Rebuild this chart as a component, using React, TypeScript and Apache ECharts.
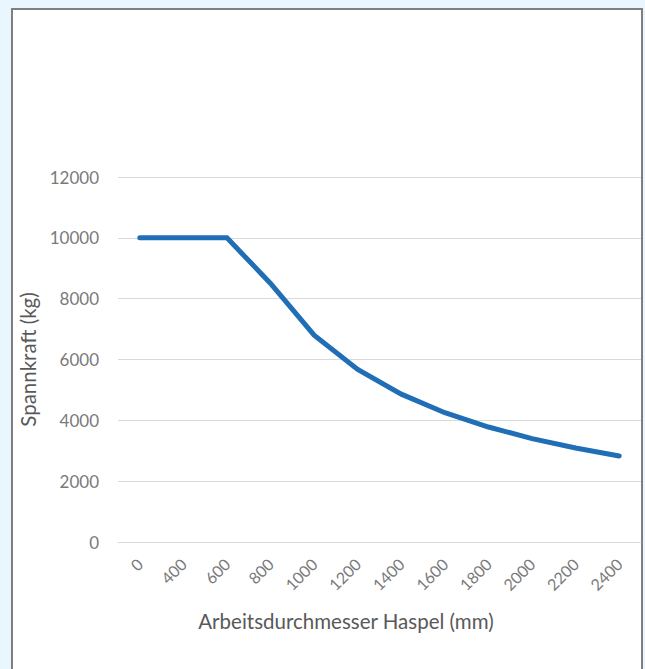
import React, { useEffect, useRef } from "react";
import * as echarts from "echarts";

const categories = ["0", "400", "600", "800", "1000", "1200", "1400", "1600", "1800", "2000", "2200", "2400"];
const spannkraft = [10000, 10000, 10000, 8500, 6800, 5670, 4860, 4250, 3780, 3400, 3090, 2830];
const yMin = 0;
const yMax = 12000;
const yInterval = 2000;

export default function App() {
  const ref = useRef<HTMLDivElement>(null);
  useEffect(() => {
    if (!ref.current) return;
    const chart = echarts.init(ref.current, undefined, { renderer: "svg" });
    const font = "Lato, 'Open Sans', sans-serif";
    chart.setOption({
      animation: false,
      backgroundColor: "#eaf6fe",
      textStyle: { fontFamily: font },
      graphic: [
        {
          type: "rect",
          z: -100,
          silent: true,
          shape: { x: 12, y: 9, width: 630, height: 680 },
          style: { fill: "#ffffff", stroke: "#7f7f7f", lineWidth: 2 },
        },
      ],
      grid: { left: 118, right: 4, top: 177, bottom: 127 },
      xAxis: {
        type: "category",
        data: categories,
        boundaryGap: true,
        axisLine: { show: true, lineStyle: { color: "#d9d9d9", width: 1 } },
        axisTick: { show: false },
        axisLabel: { rotate: 45, color: "#7a7a7a", fontSize: 16, margin: 19, fontFamily: font, interval: 0 },
        name: "Arbeitsdurchmesser Haspel (mm)",
        nameLocation: "middle",
        nameGap: 68,
        nameTextStyle: { color: "#595959", fontSize: 20.5, fontFamily: font, padding: [0, 67, 0, 0] },
      },
      yAxis: {
        type: "value",
        min: yMin,
        max: yMax,
        interval: yInterval,
        axisLine: { show: false },
        axisTick: { show: false },
        splitLine: { lineStyle: { color: "#d9d9d9", width: 1 } },
        axisLabel: { color: "#7a7a7a", fontSize: 17, margin: 19, fontFamily: font, formatter: (v: number) => String(v) },
        name: "Spannkraft (kg)",
        nameLocation: "middle",
        nameRotate: 90,
        nameGap: 76,
        nameTextStyle: { color: "#595959", fontSize: 20.5, fontFamily: font },
      },
      series: [
        {
          type: "line",
          data: spannkraft,
          showSymbol: false,
          symbol: "none",
          lineStyle: { color: "#1f6eb6", width: 5, cap: "round", join: "miter" },
          itemStyle: { color: "#1f6eb6" },
        },
      ],
    });
    return () => chart.dispose();
  }, []);
  return <div ref={ref} style={{ position: "fixed", left: 0, top: 0, width: 645, height: 669 }} />;
}
